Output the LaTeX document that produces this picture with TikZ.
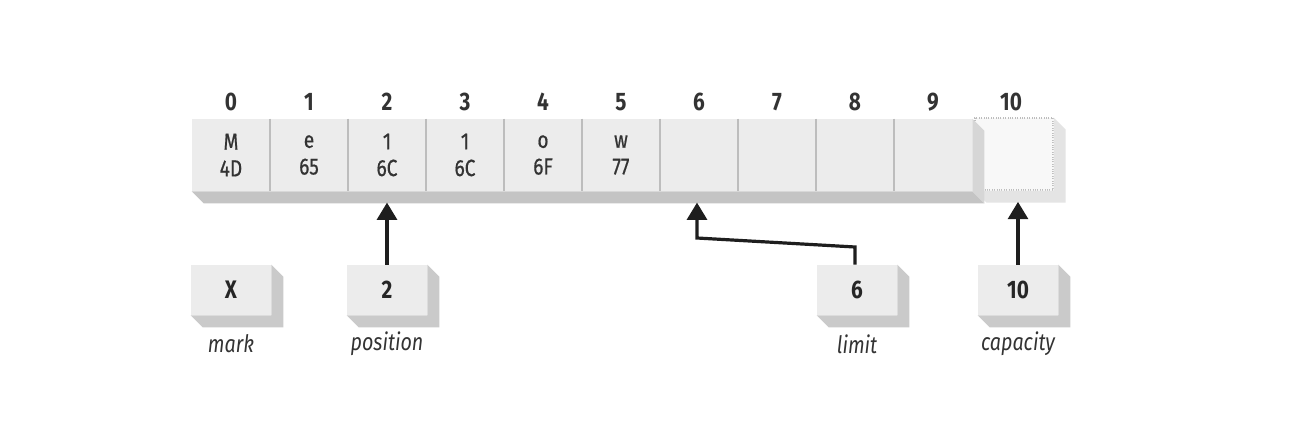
\documentclass[tikz,border=0pt]{standalone}
\usepackage{fontspec}
\setmainfont{Fira Sans}[FakeStretch=0.82]
\usetikzlibrary{arrows.meta}
\definecolor{cellface}{HTML}{ECECEC}
\definecolor{emptyface}{HTML}{F8F8F8}
\definecolor{shadebot}{HTML}{C4C4C4}
\definecolor{shadeside}{HTML}{D6D6D6}
\definecolor{shadelight}{HTML}{E4E4E4}
\definecolor{divider}{HTML}{BDBDBD}
\definecolor{txt}{HTML}{333333}
\definecolor{arrowc}{HTML}{1E1E1E}
\begin{document}
\begin{tikzpicture}[x=0.75pt,y=-0.75pt,
  cell/.style={fill=cellface, minimum width=58.5pt, minimum height=54pt, inner sep=0pt,
    align=center, font=\fontsize{17.5}{20}\selectfont\addfontfeature{FakeBold=0.6}, text=txt},
  emptycell/.style={cell, fill=emptyface, draw=divider, densely dotted, line width=0.8pt},
  idx/.style={font=\fontsize{19}{20}\selectfont\bfseries, text=txt, inner sep=0pt},
  valbox/.style={fill=cellface, minimum width=60pt, minimum height=37.5pt, inner sep=0pt,
    font=\fontsize{19}{20}\selectfont\bfseries, text=black!85},
  lbl/.style={font=\fontsize{18}{20}\selectfont\itshape, text=txt, inner sep=0pt},
  ptr/.style={draw=arrowc, line width=2.4pt, -{Triangle[length=13pt,width=15pt]}}]
\useasboundingbox[fill=white] (0,0) rectangle (1300,446);
% capacity cell (index 10)
\node[emptycell] (c10) at (1014,154) {};
\fill[shadelight] (c10.south west) -- (c10.south east) -- (c10.north east) -- ++(12,12) -- ([xshift=9pt,yshift=-9pt]c10.south east) -- ([xshift=9pt,yshift=-9pt]c10.south west) -- cycle;
% cells 0..9
\foreach \k/\a/\b in {0/M/4D,1/e/65,2/1/6C,3/1/6C,4/o/6F,5/w/77,6//,7//,8//,9//}{
  \node[cell] (c\k) at (231+78*\k,155) {\a\\\b};
}
\fill[shadebot] (c0.south west) -- (c9.south east) -- ([xshift=9pt,yshift=-9pt]c9.south east) -- ([xshift=9pt,yshift=-9pt]c0.south west) -- cycle;
\fill[shadeside] (c9.south east) -- (c9.north east) -- ++(12,12) -- ([xshift=9pt,yshift=-9pt]c9.south east) -- cycle;
\foreach \k in {0,...,8}{
  \draw[divider, line width=1.6pt] (c\k.north east) -- (c\k.south east);
}
% indices
\foreach \k in {0,...,10}{
  \node[idx] (i\k) at (231+78*\k,102) {\k};
}
% value boxes
\foreach \n/\x/\v/\l in {mk/231/X/mark, pos/387/2/position, lim/857/6/limit, cap/1018/10/capacity}{
  \node[valbox] (\n) at (\x,290) {\v};
  \fill[shadebot!90!white] (\n.south west) -- (\n.south east) -- (\n.north east) -- ++(12,12) -- ([xshift=9pt,yshift=-9pt]\n.south east) -- ([xshift=9pt,yshift=-9pt]\n.south west) -- cycle;
  \node[lbl] (\n l) at (\x,344) {\l};
}
% arrow targets
\coordinate (c2b) at ([yshift=-8.5pt]c2.south);
\coordinate (c6b) at ([yshift=-8.5pt]c6.south);
\coordinate (c10b) at ([yshift=-8.5pt]c10.south);
\coordinate (lk1) at (855,247);
\coordinate (lk2) at (697,238);
% pointers
\draw[ptr] (pos.north) -- (pos.north |- c2b);
\draw[ptr] (cap.north) -- (cap.north |- c10b);
\draw[ptr] (lk1 |- lim.north) -- (lk1) -- (lk2) -- (lk2 |- c6b);
\end{tikzpicture}
\end{document}
